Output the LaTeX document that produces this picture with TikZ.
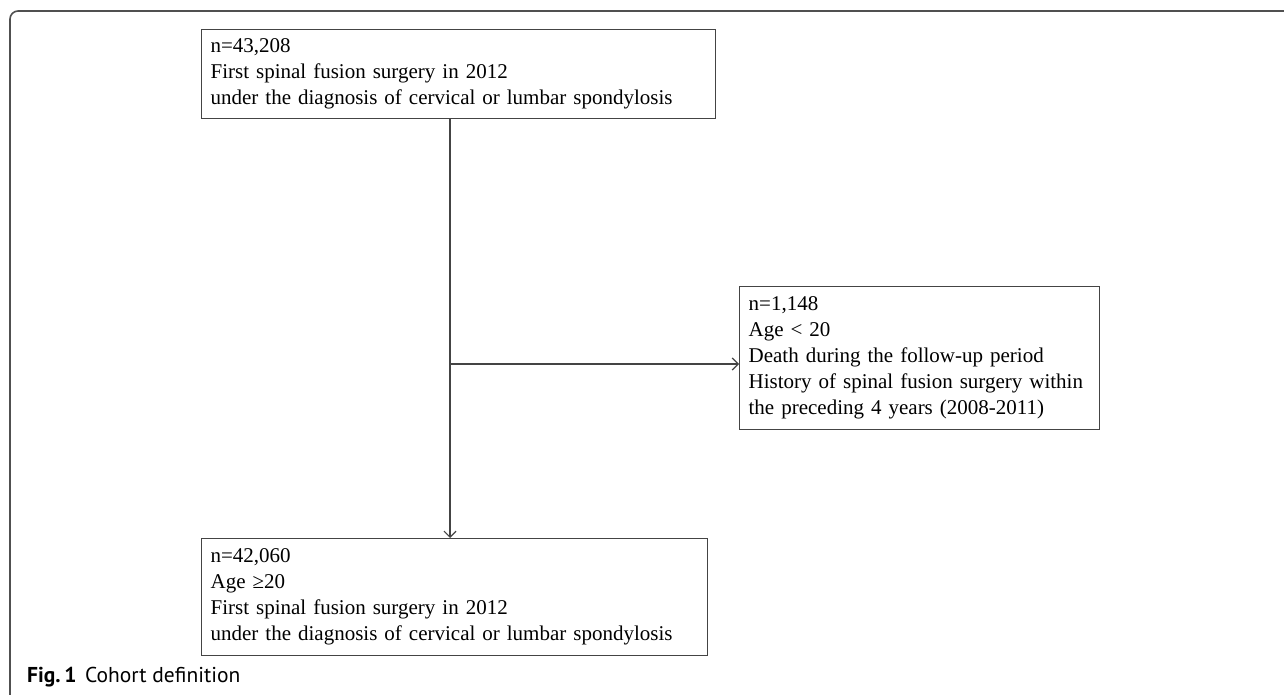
\documentclass[tikz,border=0pt]{standalone}
\usepackage{fontspec}
\setmainfont{Liberation Serif}
\newfontfamily\capfont{PT Sans}
\usetikzlibrary{arrows.meta}
\definecolor{linegray}{RGB}{68,68,68}
\definecolor{framegray}{RGB}{80,80,80}
\tikzset{ box/.style  ={draw=linegray, line width=1.3pt, anchor=north west, align=left, inner xsep=9pt, inner ysep=0pt, font=\fontsize{21}{26}\selectfont} }
\tikzset{ flow/.style ={draw=linegray, line width=1.2pt, -{Straight Barb[length=6pt,width=12pt]}} }

\begin{document}
\begin{tikzpicture}[x=1pt, y=-1pt]
    \useasboundingbox (0,0) rectangle (1284,695);

    % outer frame
    \draw[framegray, line width=1.6pt] (10,695) -- (10,19) arc[start angle=180, end angle=270, radius=8] -- (1284,11);

    \node[box, text width=496pt, minimum height=89pt] (b_all)   at (201,29)  {n=43,208\\First spinal fusion surgery in 2012\\under the diagnosis of cervical or lumbar spondylosis};
    \node[box, text width=342pt, minimum height=143pt] (b_excl) at (739,286) {n=1,148\\Age < 20\\Death during the follow-up period\\History of spinal fusion surgery within\\the preceding 4 years (2008-2011)};
    \node[box, text width=488pt, minimum height=117pt] (b_final) at (201,538) {n=42,060\\Age ≥20\\First spinal fusion surgery in 2012\\under the diagnosis of cervical or lumbar spondylosis};

    \coordinate (split) at (450,364);

    \draw[flow] (b_all.south -| split) -- (b_final.north -| split);
    \draw[flow] (split) -- (split -| b_excl.west);

    \node[anchor=west, inner sep=0pt, font=\capfont\fontsize{21.5}{24}\selectfont] (caption) at (27,677) {\textbf{Fig.\,1}\hspace{0.4em}Cohort definition};
\end{tikzpicture}
\end{document}
